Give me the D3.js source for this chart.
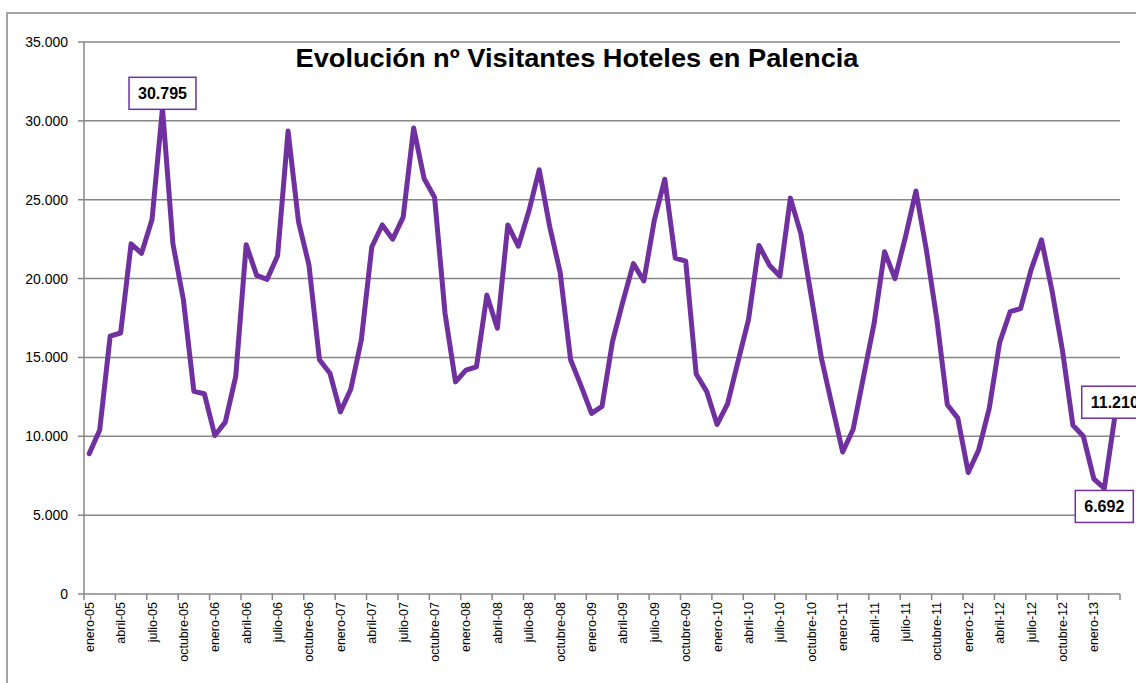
<!DOCTYPE html>
<meta charset="utf-8">
<style>

body {
  margin: 0;
  background: #fff;
}

.grid line {
  stroke: #878787;
  stroke-width: 1.5px;
}

.serie {
  fill: none;
  stroke: #7030a0;
  stroke-width: 5px;
  stroke-linejoin: round;
  stroke-linecap: round;
}

.eje text {
  font-family: "Liberation Sans", Arial, sans-serif;
  fill: #000;
}

.etiqueta rect {
  fill: #fff;
  stroke: #7030a0;
  stroke-width: 1.5px;
}

.etiqueta text {
  font: bold 16px "Liberation Sans", Arial, sans-serif;
  fill: #000;
}

</style>
<body>
<script src="https://cdn.jsdelivr.net/npm/d3@7"></script>
<script>

// meses y años del eje de categorías
var meses = ["enero", "febrero", "marzo", "abril", "mayo", "junio",
             "julio", "agosto", "septiembre", "octubre", "noviembre", "diciembre"];
var anios = ["05", "06", "07", "08", "09", "10", "11", "12", "13"];

// visitantes por mes, enero-05 .. marzo-13
var visitantes = [
   8900, 10400, 16350, 16550, 22200, 21600, 23750, 30795, 22200, 18650, 12850, 12700,  // 2005
  10050, 10900, 13800, 22150, 20200, 19950, 21450, 29350, 23600, 20850, 14850, 14000,  // 2006
  11550, 13000, 16100, 22000, 23400, 22500, 23900, 29550, 26350, 25150, 17800, 13450,  // 2007
  14200, 14400, 18950, 16850, 23400, 22050, 24250, 26900, 23300, 20400, 14850, 13200,  // 2008
  11450, 11900, 16000, 18550, 20950, 19850, 23700, 26300, 21300, 21100, 13950, 12850,  // 2009
  10750, 12050, 14750, 17400, 22100, 20850, 20150, 25100, 22850, 18850, 14850, 11900,  // 2010
   9000, 10450, 13800, 17150, 21700, 20000, 22650, 25550, 21800, 17400, 12000, 11150,  // 2011
   7700,  9150, 11750, 15950, 17900, 18100, 20550, 22450, 19250, 15450, 10700, 10000,  // 2012
   7300,  6692, 11210                                                                   // 2013
];

var yTicks = [0, 5000, 10000, 15000, 20000, 25000, 30000, 35000];

var titulo = "Evolución nº Visitantes Hoteles en Palencia";

var categorias = visitantes.map(function(d, i) {
  return meses[i % 12] + "-" + anios[Math.floor(i / 12)];
});

var es = d3.formatLocale({decimal: ",", thousands: ".", grouping: [3], currency: ["", " €"]});
var fmt = es.format(",d");

var width = 1136,
    height = 683;

var x = d3.scaleBand()
    .domain(d3.range(visitantes.length))
    .range([84, 1120])
    .padding(0);

var y = d3.scaleLinear()
    .domain([0, 35000])
    .range([594, 42]);

var svg = d3.select("body").append("svg")
    .attr("width", width)
    .attr("height", height);

// marco del gráfico
svg.append("path")
    .attr("d", "M7," + height + "V13H" + width)
    .attr("fill", "none")
    .attr("stroke", "#878787")
    .attr("stroke-width", 1.5);

// líneas de división horizontales
svg.append("g")
    .attr("class", "grid")
  .selectAll("line")
    .data(yTicks)
  .enter().append("line")
    .attr("x1", 84)
    .attr("x2", 1120)
    .attr("y1", function(d) { return y(d); })
    .attr("y2", function(d) { return y(d); });

// eje vertical
var ejeY = svg.append("g").attr("class", "eje");

ejeY.append("line")
    .attr("x1", 84).attr("x2", 84)
    .attr("y1", y(0)).attr("y2", y(35000))
    .attr("stroke", "#878787")
    .attr("stroke-width", 1.5);

ejeY.selectAll(".tick")
    .data(yTicks)
  .enter().append("line")
    .attr("x1", 78).attr("x2", 84)
    .attr("y1", function(d) { return y(d); })
    .attr("y2", function(d) { return y(d); })
    .attr("stroke", "#878787")
    .attr("stroke-width", 1.5);

ejeY.selectAll("text")
    .data(yTicks)
  .enter().append("text")
    .attr("x", 68)
    .attr("y", function(d) { return y(d); })
    .attr("dy", "0.36em")
    .attr("text-anchor", "end")
    .style("font-size", "14px")
    .text(function(d) { return fmt(d); });

// eje horizontal: marcas cada 3 categorías en los límites
var ejeX = svg.append("g").attr("class", "eje");

var limites = d3.range(0, visitantes.length + 1, 3);

ejeX.selectAll("line")
    .data(limites)
  .enter().append("line")
    .attr("x1", function(d) { return 84 + d * x.bandwidth(); })
    .attr("x2", function(d) { return 84 + d * x.bandwidth(); })
    .attr("y1", y(0))
    .attr("y2", y(0) + 6)
    .attr("stroke", "#878787")
    .attr("stroke-width", 1.5);

ejeX.selectAll("text")
    .data(d3.range(0, visitantes.length, 3))
  .enter().append("text")
    .attr("transform", function(i) {
      return "translate(" + (x(i) + x.bandwidth() / 2 + 4.5) + "," + (y(0) + 8) + ")rotate(-90)";
    })
    .attr("text-anchor", "end")
    .style("font-size", "12.5px")
    .text(function(i) { return categorias[i]; });

// título
svg.append("text")
    .attr("x", 577)
    .attr("y", 67)
    .attr("text-anchor", "middle")
    .attr("textLength", 563)
    .attr("lengthAdjust", "spacingAndGlyphs")
    .style("font", "bold 25px 'Liberation Sans', Arial, sans-serif")
    .text(titulo);

// serie
var line = d3.line()
    .x(function(d, i) { return x(i) + x.bandwidth() / 2; })
    .y(function(d) { return y(d); });

svg.append("path")
    .datum(visitantes)
    .attr("class", "serie")
    .attr("d", line);

// etiquetas de datos: máximo, mínimo y último valor
var iMax = d3.maxIndex(visitantes),
    iMin = d3.minIndex(visitantes),
    iLast = visitantes.length - 1;

var etiquetas = [
  {i: iMax, arriba: true},
  {i: iMin, arriba: false},
  {i: iLast, arriba: true}
];

var etiqueta = svg.append("g").selectAll("g")
    .data(etiquetas)
  .enter().append("g")
    .attr("class", "etiqueta");

etiqueta.each(function(d) {
  var g = d3.select(this),
      cx = x(d.i) + x.bandwidth() / 2,
      cy = y(visitantes[d.i]);
  var rect = g.append("rect");
  var t = g.append("text")
      .attr("x", cx)
      .attr("text-anchor", "middle")
      .text(fmt(visitantes[d.i]));
  var w = t.node().getComputedTextLength() + 18,
      h = 32;
  var top = d.arriba ? cy - h + 1 : cy + 2;
  rect.attr("x", cx - w / 2).attr("y", top)
      .attr("width", w).attr("height", h);
  t.attr("y", top + h / 2).attr("dy", "0.36em");
});

</script>
